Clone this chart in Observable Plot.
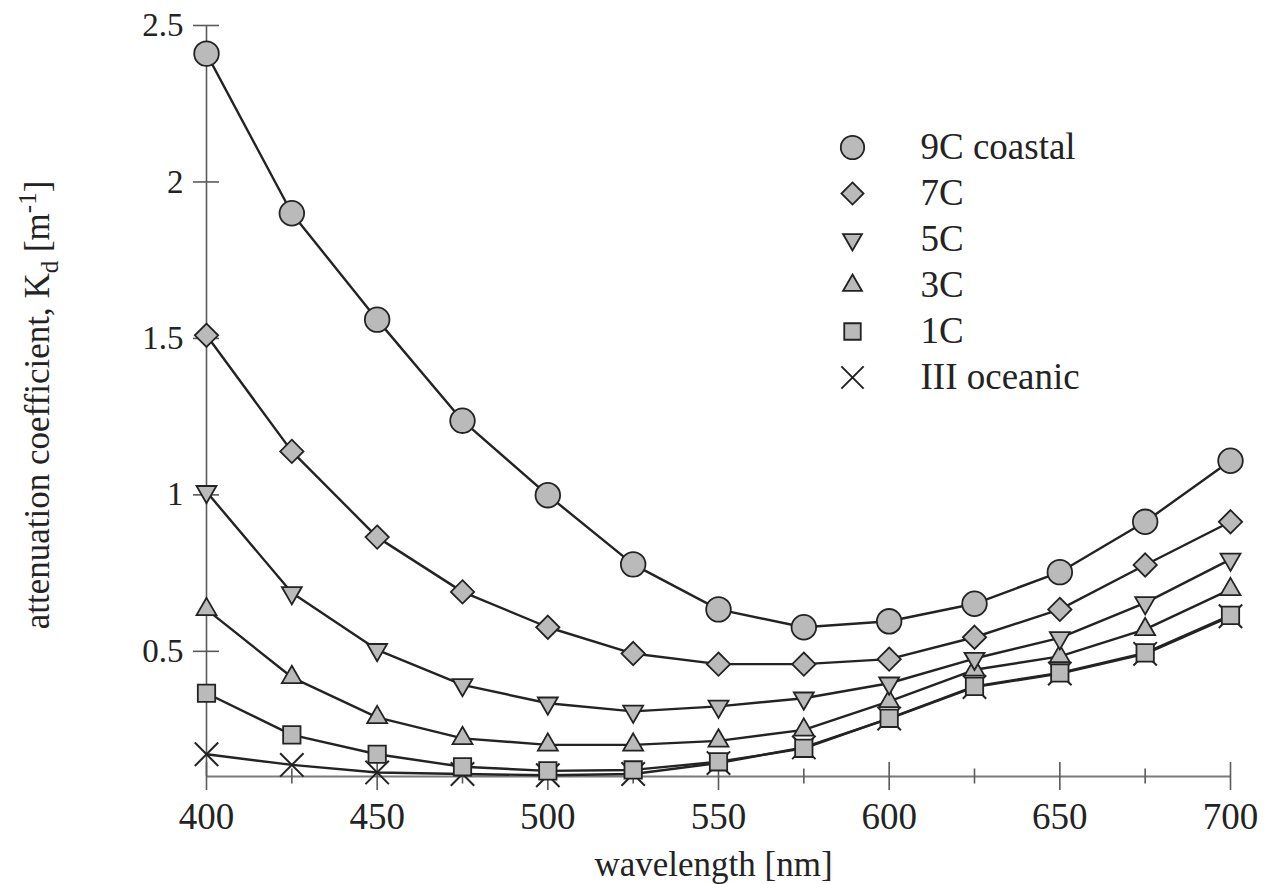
<!DOCTYPE html>
<html>
<head>
<meta charset="utf-8">
<script src="https://cdn.jsdelivr.net/npm/d3@7"></script>
<script src="https://cdn.jsdelivr.net/npm/@observablehq/plot@0.6"></script>
<style>
  body { margin: 0; background: #fff; }
  #wrap { position: relative; width: 1270px; height: 884px; }
  #legend { position: absolute; left: 820px; top: 110px; }
</style>
</head>
<body>
<div id="wrap"><div id="chart"></div><div id="legend"></div></div>
<script>
// ---- data ----
const wavelengths = [400, 425, 450, 475, 500, 525, 550, 575, 600, 625, 650, 675, 700];
const kd9C  = [2.41, 1.90, 1.56, 1.237, 0.999, 0.778, 0.634, 0.577, 0.596, 0.652, 0.753, 0.914, 1.109];
const kd7C  = [1.51, 1.139, 0.865, 0.690, 0.577, 0.493, 0.459, 0.459, 0.475, 0.545, 0.634, 0.776, 0.914];
const kd5C  = [1.01, 0.687, 0.505, 0.393, 0.334, 0.308, 0.324, 0.350, 0.398, 0.477, 0.543, 0.655, 0.794];
const kd3C  = [0.634, 0.417, 0.289, 0.222, 0.201, 0.201, 0.214, 0.249, 0.340, 0.441, 0.484, 0.570, 0.698];
const kd1C  = [0.366, 0.233, 0.171, 0.131, 0.118, 0.121, 0.147, 0.190, 0.286, 0.388, 0.431, 0.495, 0.615];
const kdIII = [0.171, 0.137, 0.113, 0.108, 0.104, 0.108, 0.143, 0.193, 0.285, 0.386, 0.429, 0.492, 0.612];
const seriesNames = ["9C coastal", "7C", "5C", "3C", "1C", "III oceanic"];
const yTicks = [0.5, 1, 1.5, 2, 2.5];
const xMajorTicks = [400, 450, 500, 550, 600, 650, 700];
const xMinorTicks = [425, 475, 525, 575, 625, 675];
const xTitle = "wavelength [nm]";
const yTitle = "attenuation coefficient, Kd [m-1]";

// ---- symbols ----
const triangleDown = {
  draw(context, size) {
    const y = Math.sqrt(size / (Math.sqrt(3) * 3));
    context.moveTo(0, 2 * y);
    context.lineTo(-Math.sqrt(3) * y, -y);
    context.lineTo(Math.sqrt(3) * y, -y);
    context.closePath();
  }
};
const symbolSpec = {
  "9C coastal": {symbol: "circle", r: 12.3},
  "7C": {symbol: "diamond2", r: 10.5},
  "5C": {symbol: triangleDown, r: 7.4},
  "3C": {symbol: "triangle", r: 7.4},
  "1C": {symbol: "square", r: 9.8},
  "III oceanic": {symbol: "times", r: 10.7}
};
const valuesBySeries = {
  "9C coastal": kd9C, "7C": kd7C, "5C": kd5C, "3C": kd3C, "1C": kd1C, "III oceanic": kdIII
};
const drawOrder = ["III oceanic", "1C", "3C", "5C", "7C", "9C coastal"];
const rows = drawOrder.flatMap(s => wavelengths.map((w, i) => ({series: s, wavelength: w, kd: valuesBySeries[s][i]})));

const INK = "#232323";
const FILL = "#bababa";
const AXIS = "#5a5a5a";
const FONT = "'Liberation Serif', 'Times New Roman', serif";

const dotMarks = drawOrder.map(s => {
  const spec = symbolSpec[s];
  const data = rows.filter(d => d.series === s);
  if (s === "III oceanic") {
    return Plot.dot(data, {x: "wavelength", y: "kd", symbol: spec.symbol, r: spec.r, fill: "none", stroke: INK, strokeWidth: 2});
  }
  return Plot.dot(data, {x: "wavelength", y: "kd", symbol: spec.symbol, r: spec.r, fill: FILL, stroke: INK, strokeWidth: 1.8});
});

const chart = Plot.plot({
  width: 1270,
  height: 884,
  marginLeft: 206,
  marginRight: 40,
  marginTop: 25,
  marginBottom: 108,
  style: {fontFamily: FONT, background: "#fff", color: INK},
  x: {domain: [400, 700]},
  y: {domain: [0.1, 2.5]},
  marks: [
    Plot.ruleX([400], {stroke: AXIS, strokeWidth: 1.6}),
    Plot.ruleY([0.1], {stroke: "#7a7a7a", strokeWidth: 2.2}),
    Plot.axisY(yTicks, {tickSize: 26, dx: 13, tickPadding: 10, fontSize: 33, stroke: AXIS, strokeWidth: 1.6, tickFormat: d => String(d), label: null}),
    Plot.axisX(xMajorTicks, {tickSize: 28, dy: -14, tickPadding: 12, fontSize: 37, stroke: AXIS, strokeWidth: 1.6, tickFormat: d => String(d), label: null}),
    Plot.axisX(xMinorTicks, {tickSize: 15, dy: -7.5, tickFormat: () => "", stroke: AXIS, strokeWidth: 1.6, label: null}),
    Plot.line(rows, {x: "wavelength", y: "kd", z: "series", stroke: INK, strokeWidth: 2.4}),
    ...dotMarks,
    Plot.text([xTitle], {frameAnchor: "bottom", textAnchor: "middle", dx: -5, dy: 99, lineAnchor: "bottom", fontSize: 35, fill: INK}),
    Plot.text([yTitle], {frameAnchor: "left", textAnchor: "middle", rotate: -90, dx: -158, dy: 4, lineAnchor: "bottom", fontSize: 35, fill: INK})
  ]
});

// subscript / superscript in the y title
d3.select(chart).selectAll("text").filter(function() { return this.textContent === yTitle; }).each(function() {
  const t = d3.select(this);
  t.text(null);
  t.append("tspan").text("attenuation coefficient, K");
  t.append("tspan").attr("dy", 9).attr("font-size", 25).text("d");
  t.append("tspan").attr("dy", -9).text(" [m");
  t.append("tspan").attr("dy", -13).attr("font-size", 25).text("-1");
  t.append("tspan").attr("dy", 13).text("]");
});
document.getElementById("chart").appendChild(chart);

// ---- legend ----
const legendItems = seriesNames.map(name => ({name, ...symbolSpec[name]}));
const legendMarks = legendItems.map(item => item.name === "III oceanic"
  ? Plot.dot([item], {y: "name", frameAnchor: "left", dx: 32, symbol: item.symbol, r: item.r * 0.95, fill: "none", stroke: INK, strokeWidth: 2})
  : Plot.dot([item], {y: "name", frameAnchor: "left", dx: 32, symbol: item.symbol, r: item.r * 0.95, fill: FILL, stroke: INK, strokeWidth: 1.8}));
const legend = Plot.plot({
  width: 420,
  height: 300,
  margin: 0,
  style: {fontFamily: FONT, background: "transparent", color: INK},
  y: {type: "point", domain: seriesNames, range: [35, 268], padding: 0, axis: null},
  marks: [
    ...legendMarks,
    Plot.text(legendItems, {y: "name", text: "name", frameAnchor: "left", dx: 100, textAnchor: "start", lineAnchor: "middle", fontSize: 37, fill: INK})
  ]
});
document.getElementById("legend").appendChild(legend);
</script>
</body>
</html>
